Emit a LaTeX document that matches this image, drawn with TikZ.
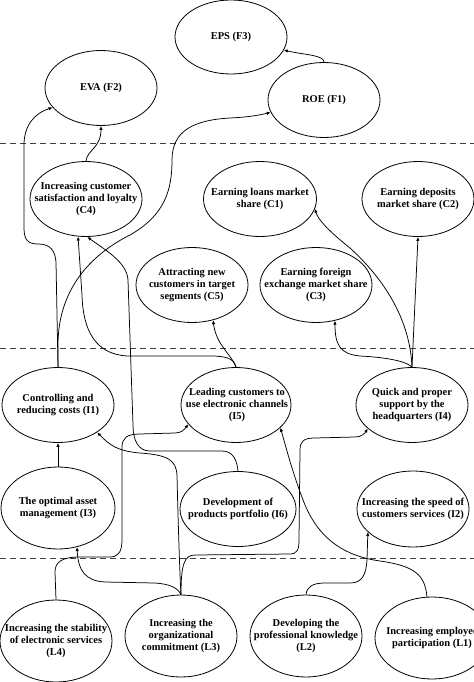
\documentclass[tikz,border=0pt]{standalone}
\usepackage{fontspec}
\setmainfont{Liberation Serif}
\usetikzlibrary{shapes.geometric,arrows.meta}
\begin{document}
\begin{tikzpicture}[x=1bp,y=-1bp,
  oval/.style={draw, ellipse, line width=0.8bp, inner sep=0pt,
    minimum width=112bp, minimum height=75bp},
  txt/.style={font=\bfseries\fontsize{10.5}{12.3}\selectfont, align=center, inner sep=0pt},
  conn/.style={line width=0.75bp, -{Latex[length=4bp,width=3.4bp]}},
  sep/.style={line width=0.8bp, dash pattern=on 6bp off 4bp, draw=black!75}]
\fill[white] (0,0) rectangle (474,682);
\useasboundingbox (0,0) rectangle (474,682);

% separators
\coordinate (s1a) at (0,143); \coordinate (s1b) at (474,143);
\coordinate (s2a) at (0,348); \coordinate (s2b) at (474,348);
\coordinate (s3a) at (0,558); \coordinate (s3b) at (474,558);
\draw[sep] (s1a) -- (s1b);
\draw[sep] (s2a) -- (s2b);
\draw[sep] (s3a) -- (s3b);

% nodes
\node[oval, minimum height=74bp] (eps) at (231,37) {};
\node[txt] (eps-t) at (eps) {EPS (F3)};
\node[oval] (eva) at (101,88) {};
\node[txt] (eva-t) at (eva) {EVA (F2)};
\node[oval] (roe) at (324,100) {};
\node[txt] (roe-t) at (roe) {ROE (F1)};

\node[oval] (c4) at (86,199) {};
\node[txt] (c4-t) at (c4) {Increasing customer\\satisfaction and loyalty\\(C4)};
\node[oval, minimum width=113bp] (c1) at (260,199) {};
\node[txt] (c1-t) at (c1) {Earning loans market\\share (C1)};
\node[oval] (c2) at (418,199) {};
\node[txt] (c2-t) at (c2) {Earning deposits\\market share (C2)};
\node[oval] (c5) at (192,285) {};
\node[txt] (c5-t) at (c5) {Attracting new\\customers in target\\segments (C5)};
\node[oval] (c3) at (316,285) {};
\node[txt] (c3-t) at (c3) {Earning foreign\\exchange market share\\(C3)};

\node[oval] (i1) at (58,405) {};
\node[txt] (i1-t) at (i1) {Controlling and\\reducing costs (I1)};
\node[oval, minimum width=110bp] (i5) at (236,405) {};
\node[txt] (i5-t) at (237,405) {Leading customers to\\use electronic channels\\(I5)};
\node[oval] (i4) at (412,405) {};
\node[txt] (i4-t) at (i4) {Quick and proper\\support by the\\headquarters (I4)};
\node[oval, minimum width=114bp, minimum height=82bp] (i3) at (58,508) {};
\node[txt] (i3-t) at (i3) {The optimal asset\\management (I3)};
\node[oval, minimum width=116bp] (i6) at (238,509) {};
\node[txt] (i6-t) at (i6) {Development of\\products portfolio (I6)};
\node[oval, minimum height=76bp] (i2) at (413,509) {};
\node[txt] (i2-t) at (i2) {Increasing the speed of\\customers services (I2)};

\node[oval, minimum height=82bp] (l4) at (56,641) {};
\node[txt] (l4-t) at (l4) {Increasing the stability\\of electronic services\\(L4)};
\node[oval, minimum height=82bp] (l3) at (181,636) {};
\node[txt] (l3-t) at (l3) {Increasing the\\organizational\\commitment (L3)};
\node[oval, minimum height=82bp] (l2) at (306,636) {};
\node[txt] (l2-t) at (l2) {Developing the\\professional knowledge\\(L2)};
\node[oval, minimum width=114bp, minimum height=82bp] (l1) at (432,638) {};
\node[txt] (l1-t) at (l1) {Increasing employee\\participation (L1)};

% connectors
\draw[conn] (roe.north) .. controls (324,55) and (305,55) .. (eps.346);
\draw[conn] (c4.north) .. controls (87,150) and (101,148) .. (eva.south);
\draw[conn] (i1.north) -- (56,262) .. controls (55,250) and (50,244) .. (38,244)
  .. controls (28,244) and (24,240) .. (24,228) -- (24,145)
  .. controls (24,125) and (35,113) .. (eva.202);
\draw[conn] (i1.north) -- (58,345) .. controls (58,290) and (90,255) .. (130,235)
  .. controls (165,215) and (172,190) .. (172,160)
  .. controls (172,130) and (195,120) .. (230,118)
  .. controls (250,117) and (260,115) .. (roe.193);
\draw[conn] (i5.north) .. controls (234,358) and (225,356) .. (210,356) -- (127,356)
  .. controls (95,354) and (83,330) .. (82,295) -- (c4.258);
\draw[conn] (i5.north) .. controls (232,355) and (216,345) .. (c5.301);
\draw[conn] (i4.north) .. controls (405,360) and (380,357) .. (360,356)
  .. controls (340,354) and (335,345) .. (c3.298);
\draw[conn] (i4.north) -- (c2.south);
\draw[conn] (i4.north) .. controls (410,320) and (385,280) .. (350,248)
  .. controls (330,232) and (318,220) .. (c1.350);
\draw[conn] (i6.north) .. controls (237,460) and (233,451) .. (222,451) -- (150,451)
  .. controls (138,451) and (133,440) .. (133,425) -- (128,280)
  .. controls (127,262) and (105,250) .. (c4.272);
\draw[conn] (i3.north) -- (i1.south);
\draw[conn] (l3.north) .. controls (180,580) and (178,520) .. (177,475)
  .. controls (176,460) and (168,455) .. (140,453)
  .. controls (115,451) and (108,443) .. (i1.325);
\draw[conn] (l3.north) .. controls (181,565) and (184,555) .. (195,555) -- (290,554)
  .. controls (297,554) and (299,550) .. (299,540) -- (300,450)
  .. controls (300,441) and (304,438) .. (315,438) -- (355,437)
  .. controls (362,437) and (365,433) .. (i4.208);
\draw[conn] (l3.north) .. controls (178,588) and (170,584) .. (155,583) -- (105,582)
  .. controls (85,581) and (78,570) .. (i3.296);
\draw[conn] (l4.north) -- (55,572) .. controls (55,562) and (62,557) .. (80,557) -- (110,557)
  .. controls (118,557) and (122,552) .. (122,540) -- (122,447)
  .. controls (122,438) and (127,434) .. (140,434) -- (175,433)
  .. controls (181,433) and (184,430) .. (i5.202);
\draw[conn] (l1.97) .. controls (425,575) and (415,566) .. (380,561)
  .. controls (345,556) and (320,540) .. (305,505)
  .. controls (295,480) and (288,455) .. (i5.333);
\draw[conn] (l2.north) .. controls (307,587) and (312,583) .. (325,583) -- (350,583)
  .. controls (362,583) and (366,575) .. (367,560) -- (i2.207);
\end{tikzpicture}
\end{document}
